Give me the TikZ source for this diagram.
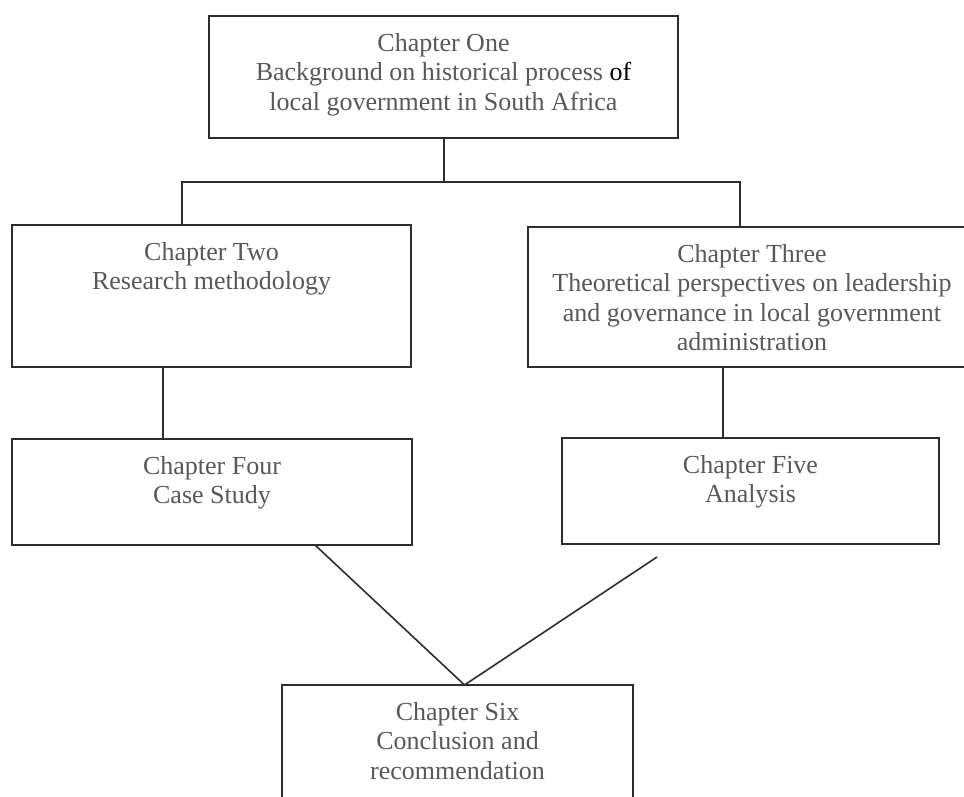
\documentclass[tikz,border=0pt]{standalone}
\usepackage{fontspec}
\setmainfont{Liberation Serif}
\definecolor{txtgray}{RGB}{88,88,88}
\definecolor{linegray}{RGB}{45,45,45}
\newcommand{\boxtext}[3]{\parbox[c][#1][t]{#2}{\centering\vspace*{14.4pt}\strut #3}}
\begin{document}
\begin{tikzpicture}[x=1pt,y=-1pt,
  chap/.style={draw=linegray, line width=1.8pt, inner sep=0pt, outer sep=0pt,
    anchor=north west, text=txtgray, font=\fontsize{26}{29.5}\selectfont},
  link/.style={draw=linegray, line width=1.6pt}]
\useasboundingbox (0,0) rectangle (964,797);

\node[chap] (one) at (209,16) {\boxtext{122pt}{469pt}{Chapter One\\ Background on historical process {\color{black}of}\\ local government in South Africa}};
\node[chap] (two) at (12,225) {\boxtext{142pt}{399pt}{Chapter Two\\ Research methodology}};
\node[chap] (three) at (528,227) {\boxtext{140pt}{448pt}{Chapter Three\\ Theoretical perspectives on leadership\\ and governance in local government\\ administration}};
\node[chap] (four) at (12,439) {\boxtext{106pt}{400pt}{Chapter Four\\ Case Study}};
\node[chap] (five) at (562,438) {\boxtext{106pt}{377pt}{Chapter Five\\ Analysis}};
\node[chap] (six) at (282,685) {\boxtext{140pt}{351pt}{Chapter Six\\ Conclusion and\\ recommendation}};

\coordinate (jl) at (182,182);
\coordinate (jr) at (740,182);
\coordinate (c1) at (444,0);
\coordinate (c24) at (163,0);
\coordinate (c35) at (723,0);
\coordinate (c46) at (315,0);
\coordinate (e5) at (657,557);

\draw[link] (one.south -| c1) -- (c1 |- jl);
\draw[link] (two.north -| jl) -- (jl) -- (jr) -- (three.north -| jr);
\draw[link] (two.south -| c24) -- (four.north -| c24);
\draw[link] (three.south -| c35) -- (five.north -| c35);
\draw[link] (four.south -| c46) -- ([xshift=7pt]six.north) -- (e5);
\end{tikzpicture}
\end{document}
